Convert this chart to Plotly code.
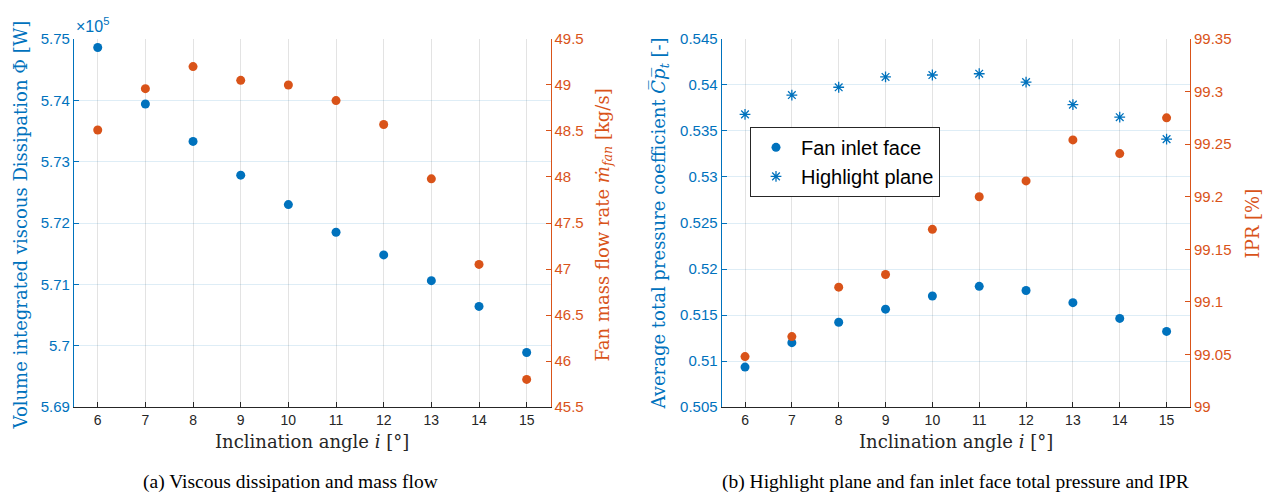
import plotly.graph_objects as go

# ---------------- data ----------------
angles = [6, 7, 8, 9, 10, 11, 12, 13, 14, 15]

# (a) viscous dissipation (x 1e5 W) and fan mass flow (kg/s)
dissipation = [5.7486, 5.7394, 5.7333, 5.7278, 5.7230, 5.7185, 5.7148, 5.7106, 5.7064, 5.6989]
mass_flow = [48.51, 48.96, 49.20, 49.05, 49.00, 48.83, 48.57, 47.98, 47.05, 45.80]

# (b) total pressure coefficient and IPR
cp_fan_face = [0.50934, 0.51200, 0.51421, 0.51564, 0.51707, 0.51812, 0.51767, 0.51634, 0.51463, 0.51322]
cp_highlight = [0.53680, 0.53890, 0.53975, 0.54087, 0.54108, 0.54122, 0.54031, 0.53786, 0.53650, 0.53411]
ipr = [99.048, 99.067, 99.114, 99.126, 99.169, 99.200, 99.215, 99.254, 99.241, 99.275]

# tick labels
x_ticks = [6, 7, 8, 9, 10, 11, 12, 13, 14, 15]
phi_ticks = [5.69, 5.70, 5.71, 5.72, 5.73, 5.74, 5.75]
phi_ticktext = ["5.69", "5.7", "5.71", "5.72", "5.73", "5.74", "5.75"]
mf_ticks = [45.5, 46, 46.5, 47, 47.5, 48, 48.5, 49, 49.5]
mf_ticktext = ["45.5", "46", "46.5", "47", "47.5", "48", "48.5", "49", "49.5"]
cp_ticks = [0.505, 0.51, 0.515, 0.52, 0.525, 0.53, 0.535, 0.54, 0.545]
cp_ticktext = ["0.505", "0.51", "0.515", "0.52", "0.525", "0.53", "0.535", "0.54", "0.545"]
ipr_ticks = [99, 99.05, 99.1, 99.15, 99.2, 99.25, 99.3, 99.35]
ipr_ticktext = ["99", "99.05", "99.1", "99.15", "99.2", "99.25", "99.3", "99.35"]

# ---------------- style ----------------
BLUE = "#0072BD"
ORANGE = "#D95319"
DARK = "#262626"
W, H = 1268, 502
SANS = "Liberation Sans, Arial, sans-serif"
SERIF = "DejaVu Serif, serif"
CAPSERIF = "Liberation Serif, Times New Roman, serif"

def px(x):
    return x / W

def py(y):
    return 1 - y / H

xdomA = [px(73.9), px(550.5)]
xdomB = [px(721.6), px(1190)]
ydom = [py(412), py(31)]

fig = go.Figure()

fig.add_trace(go.Scatter(x=angles, y=dissipation, mode="markers", xaxis="x", yaxis="y",
                         marker=dict(color=BLUE, size=9), showlegend=False))
fig.add_trace(go.Scatter(x=angles, y=mass_flow, mode="markers", xaxis="x", yaxis="y2",
                         marker=dict(color=ORANGE, size=9), showlegend=False))
fig.add_trace(go.Scatter(x=angles, y=cp_fan_face, mode="markers", xaxis="x2", yaxis="y3",
                         marker=dict(color=BLUE, size=9), name="Fan inlet face"))
fig.add_trace(go.Scatter(x=angles, y=cp_highlight, mode="markers", xaxis="x2", yaxis="y3",
                         marker=dict(color=BLUE, size=9, symbol="asterisk-open",
                                     line=dict(color=BLUE, width=1.3)),
                         name="Highlight plane"))
fig.add_trace(go.Scatter(x=angles, y=ipr, mode="markers", xaxis="x2", yaxis="y4",
                         marker=dict(color=ORANGE, size=9), showlegend=False))

xcommon = dict(range=[5.5, 15.5], tickvals=x_ticks, ticks="inside", ticklen=5,
               tickcolor=DARK, showline=True, linecolor=DARK, linewidth=1,
               showgrid=True, gridcolor="rgba(38,38,38,0.13)", gridwidth=1,
               zeroline=False, tickfont=dict(family=SANS, size=14, color=DARK))

def ycommon(color, rng, tv, tt, grid):
    return dict(range=rng, tickvals=tv, ticktext=tt, ticks="inside", ticklen=5,
                tickcolor=color, showline=True, linecolor=color, linewidth=1,
                showgrid=grid, gridcolor="rgba(0,114,189,0.13)", zeroline=False,
                tickfont=dict(family=SANS, size=15, color=color), domain=ydom)

fig.update_layout(
    width=W, height=H,
    margin=dict(l=0, r=0, t=0, b=0),
    paper_bgcolor="white", plot_bgcolor="white",
    xaxis=dict(domain=xdomA, anchor="y", **xcommon),
    xaxis2=dict(domain=xdomB, anchor="y3", **xcommon),
    yaxis=dict(anchor="x", side="left", **ycommon(BLUE, [5.69, 5.75], phi_ticks, phi_ticktext, True)),
    yaxis2=dict(anchor="x", side="right", overlaying="y",
                **ycommon(ORANGE, [45.5, 49.5], mf_ticks, mf_ticktext, False)),
    yaxis3=dict(anchor="x2", side="left", **ycommon(BLUE, [0.505, 0.545], cp_ticks, cp_ticktext, True)),
    yaxis4=dict(anchor="x2", side="right", overlaying="y3",
                **ycommon(ORANGE, [99, 99.35], ipr_ticks, ipr_ticktext, False)),
    legend=dict(x=px(750), y=py(122), xanchor="left", yanchor="top",
                bgcolor="white", bordercolor=DARK, borderwidth=1,
                font=dict(family=SANS, size=20, color="black"),
                itemsizing="trace", itemwidth=40, tracegroupgap=0),
    showlegend=True,
)

ann = []
def add(text, x, y, size=18, color=DARK, angle=0, family=SERIF, xanchor="center", yanchor="middle"):
    ann.append(dict(text=text, x=px(x), y=py(y), xref="paper", yref="paper",
                    showarrow=False, textangle=angle, xanchor=xanchor, yanchor=yanchor,
                    font=dict(family=family, size=size, color=color)))

add("×10<sup>5</sup>", 74, 17, size=16, color=BLUE, family=SANS, xanchor="left")
add("Volume integrated viscous Dissipation Φ [W]", 20, 224, color=BLUE, angle=-90)
add("Fan mass flow rate <i>ṁ</i><sub><i>fan</i></sub> [kg/s]", 604, 224, color=ORANGE, angle=-90)
add("Average total pressure coefficient <i>C̅p̅</i><sub><i>t</i></sub> [-]", 660, 222, color=BLUE, angle=-90)
add("IPR [%]", 1252, 222, color=ORANGE, angle=-90)
add("Inclination angle <i>i</i> [°]", 312, 448, color=DARK)
add("Inclination angle <i>i</i> [°]", 956, 448, color=DARK)
add("(a) Viscous dissipation and mass flow", 290, 490, size=19.5, color="black", family=CAPSERIF)
add("(b) Highlight plane and fan inlet face total pressure and IPR", 955, 490, size=19.5, color="black", family=CAPSERIF)
fig.update_layout(annotations=ann)

fig.write_html("out.html")
